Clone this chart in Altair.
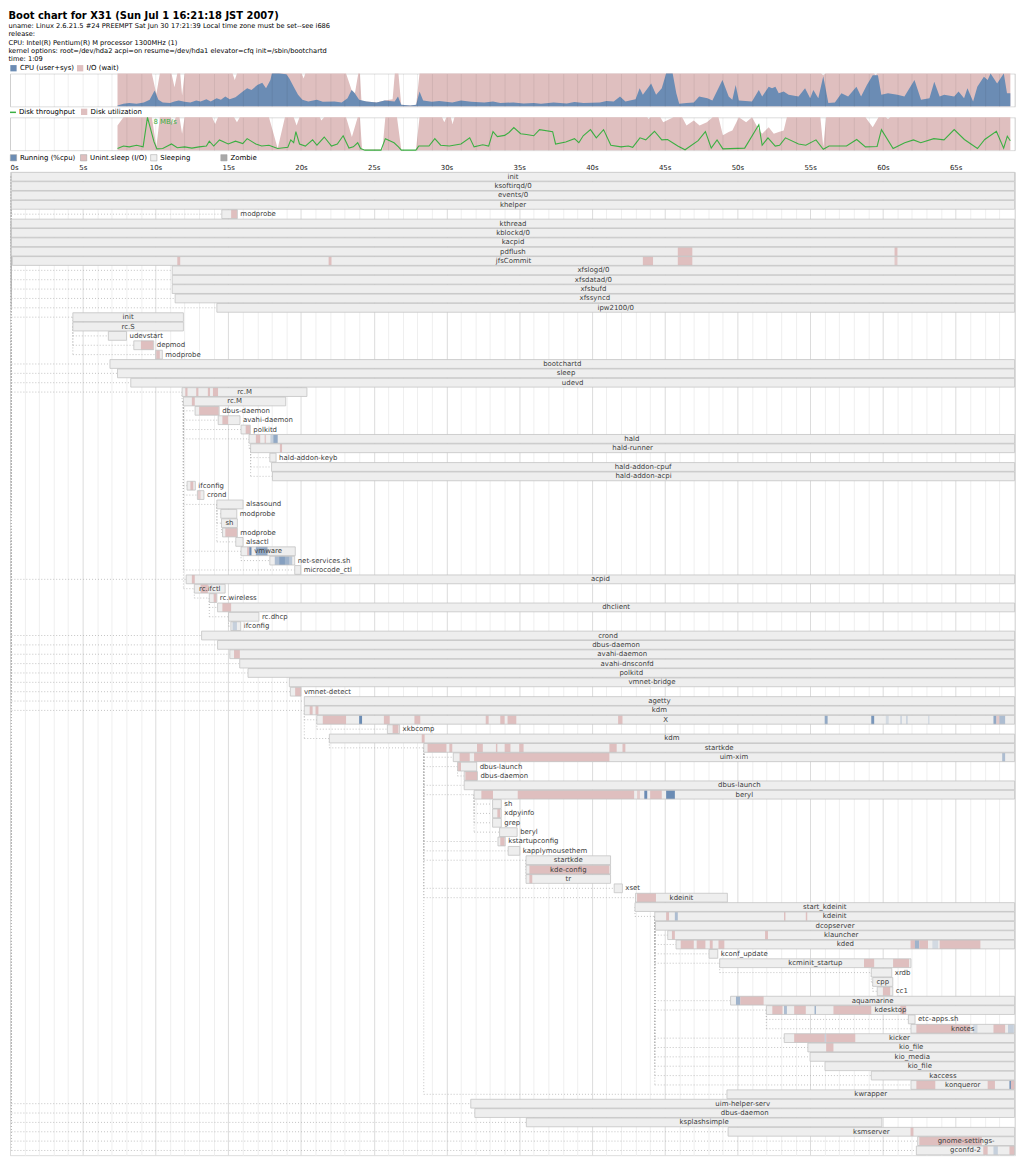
import altair as alt
import pandas as pd

FONT = "DejaVu Sans"
W = 1010          # plot width (px)
XMAX = 69.08      # seconds shown on the time axis
END = 69.05       # processes still alive at the end of the chart

BLUE = "#6b8cb4"
PINK = "#dfbfbf"
GREEN = "#3cb043"
SLEEP = "#eeeeee"
ZOMBIE = "#a8a8a8"
TEXT = "#404040"

# ---------------------------------------------------------------- header
TITLE = "Boot chart for X31 (Sun Jul  1 16:21:18 JST 2007)"
INFO = [
    "uname: Linux 2.6.21.5 #24 PREEMPT Sat Jun 30 17:21:39 Local time zone must be set--see i686",
    "release:",
    "CPU: Intel(R) Pentium(R) M processor 1300MHz (1)",
    "kernel options: root=/dev/hda2 acpi=on resume=/dev/hda1 elevator=cfq init=/sbin/bootchartd",
    "time: 1:09",
]

# ---------------------------------------------------------------- CPU (%)
cpu_t = [7.39, 7.8, 8.2, 8.7, 9.2, 9.6, 9.94, 10.2, 10.5, 11.0,
         11.3, 11.6, 12.0, 12.4, 12.8, 13.1, 13.5, 13.8, 14.2, 14.5,
         14.8, 15.1, 15.5, 16.0, 16.3, 16.6, 17.0, 17.34, 17.6, 17.9,
         18.0, 18.5, 19.0, 19.2, 19.5, 19.8, 20.1, 20.5, 21.09, 21.5,
         22.3, 22.8, 23.2, 23.48, 23.7, 24.0, 24.5, 25.2, 25.76, 26.44,
         26.67, 26.89, 27.5, 27.92, 28.15, 28.4, 29.0, 29.5, 30.4, 31.0,
         31.7, 32.6, 33.2, 33.7, 34.6, 35.3, 36.0, 36.5, 37.36, 38.27,
         38.8, 39.41, 40.0, 40.55, 41.0, 41.5, 41.93, 42.3, 43.0, 43.28,
         43.5, 44.07, 44.41, 44.8, 45.1, 45.55, 45.8, 46.0, 46.5, 47.0,
         47.37, 47.94, 48.28, 48.97, 49.4, 49.65, 49.88, 50.1, 51.0, 51.47,
         51.7, 52.15, 52.38, 52.61, 52.84, 53.18, 53.52, 54.2, 54.65, 55.0,
         55.22, 55.56, 55.9, 56.25, 56.7, 57.15, 57.61, 58.18, 58.5, 58.9,
         59.3, 59.66, 59.89, 60.35, 61.0, 61.48, 62.17, 62.62, 63.2, 63.53,
         63.9, 64.21, 64.9, 65.2, 65.58, 65.81, 66.2, 66.49, 66.94, 67.2,
         67.4, 67.85, 68.31, 68.53, 68.76]
cpu_v = [3, 8, 10, 8, 12, 20, 48, 20, 12, 10,
         15, 18, 14, 12, 18, 15, 22, 15, 25, 20,
         30, 22, 28, 45, 55, 50, 65, 72, 55, 80,
         100, 100, 98, 85, 60, 35, 20, 15, 20, 14,
         15, 12, 25, 50, 40, 20, 15, 12, 18, 15,
         30, 5, 3, 5, 45, 18, 14, 16, 12, 18,
         14, 12, 15, 10, 12, 9, 10, 8, 12, 9,
         13, 10, 11, 12, 16, 15, 30, 15, 22, 55,
         35, 70, 35, 55, 100, 100, 40, 8, 10, 12,
         30, 25, 18, 80, 30, 20, 65, 18, 15, 50,
         30, 60, 55, 60, 40, 45, 35, 30, 55, 25,
         50, 25, 92, 10, 12, 40, 30, 60, 30, 65,
         95, 95, 35, 40, 35, 30, 80, 20, 25, 75,
         30, 35, 30, 45, 25, 55, 15, 60, 90, 80,
         100, 70, 100, 40, 40]

# CPU + I/O wait (%)
busy_t = [7.39, 9.75, 10.06, 10.3, 11.1, 11.31, 11.5, 11.7, 11.83, 12.0,
          15.3, 15.45, 15.6, 20.05, 20.18, 20.3, 23.1, 23.48, 23.71, 23.94,
          24.05, 24.16, 24.5, 25.2, 25.76, 26.3, 26.45, 26.7, 26.89, 27.5,
          27.92, 28.15, 55.75, 55.9, 56.05, 59.4, 59.5, 59.6, 68.76]
busy_v = [100, 100, 38, 100, 100, 58, 100, 100, 33, 100,
          100, 80, 100, 100, 85, 100, 100, 50, 40, 100,
          100, 15, 15, 12, 18, 22, 100, 100, 5, 3,
          5, 100, 100, 95, 100, 100, 95, 100, 100]

# ---------------------------------------------------------------- disk
util_t = [7.39, 7.8, 9.75, 10.06, 10.3, 11.05, 11.2, 11.4, 11.65, 11.83,
          12.0, 13.9, 14.1, 14.3, 15.4, 15.6, 15.8, 17.8, 18.4, 18.9,
          19.5, 19.7, 19.9, 21.3, 21.4, 21.6, 23.1, 23.5, 23.9, 24.05,
          24.2, 25.6, 25.8, 26.6, 26.9, 27.9, 28.15, 29.7, 29.85, 30.0,
          30.3, 30.42, 30.55, 43.8, 43.9, 44.0, 44.7, 44.9, 45.6, 46.2,
          46.5, 47.0, 47.4, 47.9, 48.3, 48.7, 49.0, 49.4, 49.65, 50.1,
          50.6, 51.0, 51.5, 51.7, 52.15, 52.5, 52.84, 53.18, 53.4, 55.7,
          55.9, 56.1, 58.8, 59.3, 59.7, 60.2, 60.35, 60.5, 68.76]
util_v = [75, 100, 100, 10, 100, 100, 80, 100, 100, 50,
          100, 100, 80, 100, 100, 85, 100, 100, 5, 100,
          100, 75, 100, 100, 90, 100, 100, 40, 100, 100,
          2, 2, 100, 100, 0, 0, 100, 100, 85, 100,
          100, 80, 100, 100, 95, 100, 100, 85, 100, 100,
          75, 90, 75, 85, 100, 100, 45, 55, 60, 100,
          85, 100, 60, 50, 70, 50, 55, 60, 100, 100,
          10, 100, 100, 70, 100, 100, 95, 100, 100]

# throughput (MB/s)
tput_t = [7.39, 7.8, 8.2, 8.7, 9.15, 9.45, 9.9, 10.1, 10.5, 11.1,
          11.5, 12.0, 12.5, 13.0, 13.5, 13.7, 14.0, 14.4, 15.0, 15.5,
          16.0, 16.3, 16.9, 17.3, 17.8, 18.4, 19.1, 19.3, 19.5, 19.65,
          19.9, 20.3, 20.8, 21.1, 21.6, 22.1, 22.5, 22.9, 23.3, 23.6,
          23.9, 24.1, 24.4, 25.5, 25.8, 26.4, 26.7, 26.9, 27.9, 28.1,
          28.8, 29.2, 29.6, 30.2, 31.0, 31.6, 31.9, 32.5, 32.9, 33.2,
          33.5, 34.0, 34.3, 34.63, 35.1, 35.5, 36.0, 36.4, 37.3, 37.5,
          38.2, 38.8, 39.1, 39.4, 39.9, 40.3, 40.8, 41.3, 42.0, 42.5,
          42.8, 43.3, 43.7, 44.3, 44.8, 45.2, 45.9, 46.4, 47.3, 47.8,
          48.2, 48.6, 49.0, 50.5, 51.47, 51.7, 52.1, 52.6, 52.9, 53.3,
          54.2, 54.7, 55.4, 55.9, 56.3, 57.5, 58.2, 58.8, 59.6, 59.9,
          60.7, 61.5, 62.1, 62.6, 63.5, 64.2, 64.9, 65.6, 66.5, 67.0,
          67.8, 68.3, 68.55, 68.76]
tput_v = [0.4, 1.0, 0.8, 1.2, 0.8, 8.0, 2.0, 0.3, 0.4, 1.5,
          0.6, 0.8, 0.5, 0.8, 1.0, 2.2, 1.0, 2.5, 1.5, 2.2,
          1.6, 2.8, 1.5, 1.0, 1.2, 0.4, 0.7, 2.5, 1.8, 4.5,
          1.5, 1.0, 2.5, 1.2, 3.2, 1.0, 1.5, 3.5, 0.5, 0.8,
          1.8, 0.4, 0.0, 0.0, 2.8, 1.8, 0.8, 0.0, 0.0, 1.0,
          1.0, 2.8, 1.2, 1.0, 1.5, 3.0, 0.8, 1.3, 1.0, 4.5,
          3.3, 3.6, 4.3, 5.5, 4.0, 3.8, 3.5, 5.0, 4.5, 1.5,
          2.0, 2.8, 1.8, 3.5, 5.0, 3.0, 5.0, 1.2, 0.8, 1.0,
          0.7, 3.0, 2.5, 4.6, 2.5, 2.6, 1.0, 0.1, 2.3, 4.5,
          0.5, 2.5, 0.3, 0.5, 6.2, 1.2, 3.0, 1.0, 1.2, 3.0,
          1.5, 1.2, 2.5, 0.2, 1.0, 1.0, 2.6, 0.8, 0.9, 5.0,
          0.4, 1.8, 2.5, 1.8, 2.8, 2.5, 5.0, 2.6, 0.4, 2.6,
          4.6, 0.5, 3.4, 2.3]

# ---------------------------------------------------------------- processes
proc_names = [
    "init", "ksoftirqd/0", "events/0", "khelper", "modprobe", "kthread", "kblockd/0", "kacpid", "pdflush", "jfsCommit",
    "xfslogd/0", "xfsdatad/0", "xfsbufd", "xfssyncd", "ipw2100/0", "init", "rc.S", "udevstart", "depmod", "modprobe",
    "bootchartd", "sleep", "udevd", "rc.M", "rc.M", "dbus-daemon", "avahi-daemon", "polkitd", "hald", "hald-runner",
    "hald-addon-keyb", "hald-addon-cpuf", "hald-addon-acpi", "ifconfig", "crond", "alsasound", "modprobe", "sh", "modprobe", "alsactl",
    "vmware", "net-services.sh", "microcode_ctl", "acpid", "rc.ifctl", "rc.wireless", "dhclient", "rc.dhcp", "ifconfig", "crond",
    "dbus-daemon", "avahi-daemon", "avahi-dnsconfd", "polkitd", "vmnet-bridge", "vmnet-detect", "agetty", "kdm", "X", "xkbcomp",
    "kdm", "startkde", "uim-xim", "dbus-launch", "dbus-daemon", "dbus-launch", "beryl", "sh", "xdpyinfo", "grep",
    "beryl", "kstartupconfig", "kapplymousethem", "startkde", "kde-config", "tr", "xset", "kdeinit", "start_kdeinit", "kdeinit",
    "dcopserver", "klauncher", "kded", "kconf_update", "kcminit_startup", "xrdb", "cpp", "cc1", "aquamarine", "kdesktop",
    "etc-apps.sh", "knotes", "kicker", "kio_file", "kio_media", "kio_file", "kaccess", "konqueror", "kwrapper", "uim-helper-serv",
    "dbus-daemon", "ksplashsimple", "ksmserver", "gnome-settings-", "gconfd-2",
]
proc_start = [
    0.1, 0.1, 0.1, 0.1, 14.56, 0.1, 0.1, 0.1, 0.09, 0.16,
    11.15, 11.15, 11.15, 11.35, 14.22, 4.32, 4.32, 6.76, 8.51, 10.01,
    6.87, 7.39, 8.30, 11.83, 11.92, 12.72, 14.31, 15.88, 16.43, 16.54,
    17.86, 17.98, 18.04, 12.17, 12.88, 14.22, 14.49, 14.54, 14.61, 15.52,
    15.88, 17.86, 19.57, 12.11, 12.67, 13.70, 14.27, 15.02, 15.18, 13.17,
    14.27, 15.11, 15.79, 16.36, 19.20, 19.27, 20.23, 20.23, 21.09, 25.94,
    21.95, 28.44, 30.47, 30.76, 31.22, 31.22, 31.90, 33.17, 33.17, 33.17,
    33.65, 33.54, 34.24, 35.47, 35.47, 35.47, 41.53, 43.0, 42.96, 44.32,
    44.37, 45.21, 45.78, 48.05, 48.78, 59.2, 59.3, 59.61, 49.53, 51.99,
    61.75, 61.93, 53.22, 54.84, 54.99, 56.02, 59.2, 61.93, 49.28, 31.67,
    31.95, 35.49, 49.36, 62.39, 62.3,
]
E = END
proc_end = [
    E, E, E, E, 15.63, E, E, E, E, E,
    E, E, E, E, E, 11.92, 11.92, 8.01, 9.88, 10.47,
    E, E, E, 20.41, 18.95, 14.38, 15.81, 16.52, E, E,
    18.29, E, E, 12.74, 13.33, 16.02, 15.59, 15.63, 15.63, 16.02,
    19.61, 19.57, 19.98, E, 14.79, 14.22, E, 17.11, 15.86, E,
    E, E, E, E, E, 20.0, E, E, E, 26.78,
    E, E, E, 32.08, 32.13, E, E, 33.77, 33.77, 33.77,
    34.86, 34.04, 35.04, 41.28, 41.28, 41.28, 42.09, 49.31, E, E,
    E, E, E, 48.65, 61.93, 60.61, 60.68, 60.68, E, E,
    62.21, E, E, E, E, E, E, E, E, E,
    E, 59.93, E, E, E,
]
# parent row (1-based, 0 = none)
proc_parent = [
    0, 1, 1, 1, 4, 1, 6, 6, 6, 6,
    6, 6, 6, 6, 6, 1, 16, 17, 17, 17,
    1, 1, 1, 1, 24, 25, 25, 25, 25, 29,
    30, 30, 30, 25, 25, 25, 36, 36, 38, 36,
    25, 41, 25, 1, 25, 45, 46, 46, 48, 1,
    1, 1, 1, 1, 1, 1, 1, 1, 58, 59,
    58, 61, 62, 62, 64, 62, 62, 67, 67, 67,
    67, 62, 62, 62, 74, 74, 62, 62, 78, 79,
    80, 80, 80, 80, 80, 85, 86, 87, 80, 80,
    90, 90, 80, 80, 80, 80, 80, 80, 62, 1,
    1, 1, 1, 1, 1,
]

# state samples inside process bars: (row, from, to, state, intensity)
# state: R = running, D = uninterruptible sleep (I/O)
segments = [
    (5, 15.2, 15.6, "D", 1), (9, 45.9, 46.9, "D", 1), (9, 60.8, 61.0, "D", 1),
    (10, 11.5, 11.7, "D", 1), (10, 21.9, 22.1, "D", 1), (10, 43.5, 44.2, "D", 1),
    (10, 45.9, 46.9, "D", 1), (10, 60.8, 61.0, "D", 0.8),
    (19, 9.0, 9.85, "D", 1), (20, 10.05, 10.3, "D", 1),
    (24, 12.05, 12.2, "D", 1), (24, 12.8, 12.95, "D", 1), (24, 13.6, 13.75, "D", 1), (24, 13.95, 14.3, "D", 1),
    (25, 12.5, 12.7, "D", 1), (26, 13.0, 14.35, "D", 1), (27, 14.6, 15.0, "D", 1), (28, 16.2, 16.5, "D", 1),
    (29, 16.9, 17.2, "D", 1), (29, 17.5, 17.6, "D", 0.8), (29, 17.9, 18.1, "R", 0.3), (29, 18.1, 18.4, "R", 0.7),
    (30, 18.55, 18.7, "D", 1), (34, 12.4, 12.6, "D", 1), (35, 12.9, 13.1, "D", 0.7), (39, 14.8, 15.6, "D", 1),
    (41, 16.3, 16.45, "D", 1), (41, 16.45, 16.6, "R", 1), (41, 16.9, 17.7, "R", 0.7),
    (42, 18.2, 18.5, "R", 0.5), (42, 18.5, 18.9, "R", 0.8), (42, 18.9, 19.2, "R", 0.6), (42, 19.2, 19.4, "R", 0.4),
    (44, 12.5, 12.7, "D", 1), (45, 13.1, 13.6, "D", 1), (46, 14.0, 14.2, "D", 1), (47, 14.6, 15.2, "D", 1),
    (49, 15.3, 15.6, "R", 0.3), (52, 15.4, 15.8, "D", 1), (56, 19.6, 20.0, "D", 1),
    (58, 20.6, 20.8, "D", 1), (58, 21.0, 21.2, "D", 1),
    (59, 21.5, 23.1, "D", 1), (59, 24.0, 24.2, "R", 1), (59, 25.7, 26.1, "D", 1), (59, 27.8, 28.2, "D", 1),
    (59, 32.7, 32.9, "D", 1), (59, 33.7, 34.0, "D", 1), (59, 34.2, 34.8, "D", 1), (59, 41.8, 42.1, "D", 1),
    (59, 56.0, 56.2, "R", 0.7), (59, 59.2, 59.4, "R", 0.9), (59, 60.2, 60.4, "R", 0.2), (59, 61.2, 61.3, "R", 0.3),
    (59, 61.6, 61.7, "R", 0.3), (59, 63.1, 63.2, "R", 0.2), (59, 67.6, 67.8, "R", 0.7), (59, 67.8, 68.0, "D", 0.8),
    (59, 68.0, 68.4, "R", 0.5),
    (60, 26.3, 26.7, "D", 1), (61, 28.3, 28.5, "D", 1),
    (62, 28.7, 30.0, "D", 1), (62, 30.2, 30.4, "D", 1), (62, 32.1, 32.5, "D", 1), (62, 33.4, 33.5, "D", 1),
    (62, 34.0, 34.4, "D", 1), (62, 35.0, 35.3, "D", 1), (62, 41.2, 41.7, "D", 1), (62, 42.1, 42.3, "D", 1),
    (63, 30.9, 31.6, "D", 1), (63, 31.9, 41.2, "D", 1), (63, 68.2, 68.4, "R", 0.5),
    (64, 30.8, 31.0, "D", 1), (65, 31.3, 32.1, "D", 1),
    (67, 32.4, 33.2, "D", 1), (67, 34.9, 42.9, "D", 1), (67, 43.1, 43.3, "D", 0.7), (67, 43.6, 43.8, "R", 1),
    (67, 44.0, 44.8, "D", 1), (67, 45.1, 45.7, "R", 1),
    (69, 33.5, 33.7, "D", 1), (72, 33.7, 34.0, "D", 1), (75, 35.7, 41.2, "D", 1), (76, 35.7, 35.9, "D", 1),
    (78, 43.1, 44.4, "D", 1),
    (80, 45.1, 45.3, "D", 1), (80, 45.7, 45.9, "R", 0.5), (80, 53.2, 53.3, "D", 1), (80, 54.7, 54.8, "D", 1),
    (82, 45.5, 45.7, "D", 1), (82, 51.9, 52.1, "D", 1),
    (83, 46.1, 47.0, "D", 1), (83, 47.2, 47.8, "D", 1), (83, 48.1, 48.3, "D", 1), (83, 48.7, 49.1, "D", 1),
    (83, 61.9, 62.2, "D", 1), (83, 62.2, 62.5, "R", 0.6), (83, 62.5, 63.1, "D", 1), (83, 63.4, 63.8, "R", 0.2),
    (83, 63.9, 66.7, "D", 1),
    (85, 58.7, 59.4, "D", 1), (85, 60.7, 61.8, "D", 1), (88, 60.0, 60.5, "D", 1),
    (89, 49.9, 50.2, "R", 0.6), (89, 50.2, 51.8, "D", 1),
    (90, 52.4, 53.1, "D", 1), (90, 53.2, 53.4, "R", 0.5), (90, 53.9, 54.7, "D", 1), (90, 55.3, 55.4, "R", 0.6),
    (90, 56.6, 59.2, "D", 1), (90, 61.2, 61.6, "D", 1),
    (92, 62.3, 66.0, "D", 1), (92, 66.2, 66.5, "R", 0.2), (92, 67.6, 68.4, "D", 1), (92, 68.6, 69.0, "R", 0.3),
    (93, 53.9, 56.0, "D", 1), (93, 56.0, 56.1, "R", 0.3), (93, 56.1, 58.1, "D", 1), (94, 56.1, 56.6, "D", 1),
    (98, 62.3, 63.6, "D", 1), (98, 67.2, 67.7, "D", 1), (98, 68.7, 68.8, "R", 1), (98, 68.8, 69.05, "D", 1),
    (103, 61.9, 62.1, "D", 1), (104, 62.5, 66.8, "D", 1),
    (105, 66.9, 67.2, "D", 1), (105, 67.6, 67.9, "R", 0.3), (105, 68.7, 69.05, "D", 1),
]

STATES = ["Running (%cpu)", "Unint.sleep (I/O)", "Sleeping", "Zombie"]
STATE_OF = {"R": STATES[0], "D": STATES[1]}

# ---------------------------------------------------------------- helpers
N = len(proc_names)
ROW_PX = 9.41
H_PROC = round(N * ROW_PX)
PX_PER_S = W / XMAX

CW = {'a': .613, 'b': .635, 'c': .550, 'd': .635, 'e': .615, 'f': .352, 'g': .635, 'h': .634,
      'i': .278, 'j': .278, 'k': .579, 'l': .278, 'm': .974, 'n': .634, 'o': .612, 'p': .635,
      'q': .635, 'r': .411, 's': .521, 't': .392, 'u': .634, 'v': .592, 'w': .818, 'x': .592,
      'y': .592, 'z': .525, '-': .361, '_': .5, '.': .318, '/': .337, 'X': .685, ' ': .318}


def text_px(s, size=7.0):
    return sum(CW.get(c, .636) for c in s) * size


def xq(field, axis):
    return alt.X(f"{field}:Q", scale=alt.Scale(domain=[0, XMAX], nice=False, zero=False),
                 axis=axis, title=None)


GRID_AXIS = alt.Axis(values=list(range(0, 70)), grid=True, gridColor="#000000", gridOpacity=0.07,
                     labels=False, ticks=False, domain=False, zindex=1, title=None)

# ---------------------------------------------------------------- CPU chart
cpu_df = pd.DataFrame({"t": cpu_t, "v": cpu_v, "k": "CPU (user+sys)"})
busy_df = pd.DataFrame({"t": busy_t, "v": busy_v, "k": "I/O (wait)"})
ycpu = alt.Y("v:Q", scale=alt.Scale(domain=[0, 100]), axis=None, title=None)
cpu_color = alt.Color(
    "k:N",
    scale=alt.Scale(domain=["CPU (user+sys)", "I/O (wait)"], range=[BLUE, PINK]),
    legend=alt.Legend(title=None, orient="none", legendX=0, legendY=-9, direction="horizontal",
                      symbolType="square", symbolSize=40, symbolStrokeWidth=0, labelFontSize=7,
                      labelFont=FONT, labelColor="#000", labelOffset=3, columnPadding=2),
)
cpu_chart = alt.layer(
    alt.Chart(busy_df).mark_area().encode(x=xq("t", GRID_AXIS), y=ycpu, color=cpu_color),
    alt.Chart(cpu_df).mark_area().encode(x=xq("t", GRID_AXIS), y=ycpu, color=cpu_color),
).properties(width=W, height=33)

# ---------------------------------------------------------------- disk chart
util_df = pd.DataFrame({"t": util_t, "v": util_v, "k": "Disk utilization"})
tput_df = pd.DataFrame({"t": tput_t, "v": tput_v, "k": "Disk throughput"})
TMAX = max(tput_v)
peak_df = tput_df.loc[[tput_df["v"].idxmax()]].assign(lab=f"{TMAX:g} MB/s")

util_area = alt.Chart(util_df).mark_area().encode(
    x=xq("t", GRID_AXIS),
    y=alt.Y("v:Q", scale=alt.Scale(domain=[0, 100]), axis=None, title=None),
    fill=alt.Fill("k:N", scale=alt.Scale(domain=["Disk utilization"], range=[PINK]),
                  legend=alt.Legend(title=None, orient="none", legendX=71, legendY=-9,
                                    symbolType="square", symbolSize=40, symbolStrokeWidth=0,
                                    labelFontSize=7, labelFont=FONT, labelColor="#000", labelOffset=3)),
)
ytp = alt.Y("v:Q", scale=alt.Scale(domain=[0, TMAX]), axis=None, title=None)
tput_line = alt.Chart(tput_df).mark_line(strokeWidth=1.1).encode(
    x=xq("t", GRID_AXIS), y=ytp,
    stroke=alt.Stroke("k:N", scale=alt.Scale(domain=["Disk throughput"], range=[GREEN]),
                      legend=alt.Legend(title=None, orient="none", legendX=-1, legendY=-9,
                                        symbolType="stroke", symbolSize=36, symbolStrokeWidth=1.5,
                                        labelFontSize=7, labelFont=FONT, labelColor="#000", labelOffset=2)),
)
tput_label = alt.Chart(peak_df).mark_text(align="left", baseline="top", dx=6, dy=1, fontSize=7,
                                          font=FONT, color=GREEN).encode(
    x=xq("t", GRID_AXIS), y=ytp, text="lab:N")
disk_chart = alt.layer(util_area, tput_line, tput_label).resolve_scale(y="independent").properties(
    width=W, height=33)

# ---------------------------------------------------------------- process chart
rows = list(range(1, N + 1))
proc_df = pd.DataFrame({"row": rows, "name": proc_names, "start": proc_start, "end": proc_end,
                        "state": "Sleeping"})
inside = [(e - s) * PX_PER_S > text_px(n) + 6 for n, s, e in zip(proc_names, proc_start, proc_end)]
proc_df["inside"] = inside
proc_df["lx"] = [(s + e) / 2 if ins else e for s, e, ins in zip(proc_start, proc_end, inside)]

seg_df = pd.DataFrame(segments, columns=["row", "t0", "t1", "st", "lvl"])
seg_df["state"] = seg_df["st"].map(STATE_OF)

conn = [(r, p, proc_start[p - 1], proc_start[r - 1]) for r, p in zip(rows, proc_parent) if p > 0]
conn_df = pd.DataFrame(conn, columns=["row", "prow", "px", "cx"])

PROC_AXIS = alt.Axis(
    orient="top", values=list(range(0, 70)),
    labelExpr="datum.value % 5 == 0 ? datum.value + 's' : ''",
    grid=True,
    gridColor={"condition": {"test": "datum.value % 5 == 0", "value": "#dcdcdc"}, "value": "#efefef"},
    ticks=False, domain=False, labelFontSize=7, labelFont=FONT, labelColor="#222",
    labelPadding=2, labelOverlap=False, title=None,
)
yscale = alt.Scale(domain=rows, paddingInner=0.06, paddingOuter=0.03)
yrow = alt.Y("row:O", scale=yscale, axis=None, title=None)
state_color = alt.Color(
    "state:N",
    scale=alt.Scale(domain=STATES, range=[BLUE, PINK, SLEEP, ZOMBIE]),
    legend=alt.Legend(title=None, orient="none", legendX=0, legendY=-18, direction="horizontal",
                      symbolType="square", symbolSize=40, symbolStrokeColor="#a0a0a0",
                      symbolStrokeWidth=0.5, labelFontSize=7, labelFont=FONT, labelColor="#000",
                      labelOffset=3, columnPadding=1.5, gridAlign="all"),
)
DOT = dict(color="#b4b4b4", strokeWidth=0.8, strokeDash=[1, 2])
h_conn = alt.Chart(conn_df).mark_rule(**DOT).encode(x=xq("px", PROC_AXIS), x2=alt.X2("cx"), y=yrow)
v_conn = alt.Chart(conn_df).mark_rule(**DOT).encode(
    x=xq("px", PROC_AXIS), y=alt.Y("prow:O", scale=yscale, axis=None, title=None), y2=alt.Y2("row"))
bars = alt.Chart(proc_df).mark_bar(strokeWidth=0).encode(
    x=xq("start", PROC_AXIS), x2=alt.X2("end"), y=yrow, color=state_color)
segs = alt.Chart(seg_df).mark_bar(strokeWidth=0).encode(
    x=xq("t0", PROC_AXIS), x2=alt.X2("t1"), y=yrow, color=state_color,
    opacity=alt.Opacity("lvl:Q", scale=None))
outline = alt.Chart(proc_df).mark_bar(fillOpacity=0, stroke="#c4c4c4", strokeWidth=0.8).encode(
    x=xq("start", PROC_AXIS), x2=alt.X2("end"), y=yrow)
lab_in = alt.Chart(proc_df).transform_filter("datum.inside").mark_text(
    align="center", baseline="middle", fontSize=7, font=FONT, color=TEXT).encode(
    x=xq("lx", PROC_AXIS), y=yrow, text="name:N")
lab_out = alt.Chart(proc_df).transform_filter("!datum.inside").mark_text(
    align="left", baseline="middle", dx=3, fontSize=7, font=FONT, color=TEXT).encode(
    x=xq("lx", PROC_AXIS), y=yrow, text="name:N")

proc_chart = alt.layer(h_conn, v_conn, bars, segs, outline, lab_in, lab_out).properties(
    width=W, height=H_PROC)

# ---------------------------------------------------------------- assemble
chart = alt.vconcat(cpu_chart, disk_chart, proc_chart, spacing=0).resolve_scale(
    color="independent", fill="independent", stroke="independent", x="independent"
).resolve_legend(
    color="independent", fill="independent", stroke="independent"
).properties(
    title=alt.TitleParams(
        text=TITLE, subtitle=INFO, anchor="start", font=FONT, fontSize=10, fontWeight="bold",
        color="#000", subtitleFont=FONT, subtitleFontSize=6.7, subtitleColor="#000",
        subtitleLineHeight=8.4, subtitlePadding=2, offset=1),
    padding={"left": 0, "top": 0, "right": 0, "bottom": 0},
).configure_view(stroke="#b8b8b8", strokeWidth=1).configure(font=FONT)

chart.save("out.html", embed_options={"renderer": "svg", "actions": False})
